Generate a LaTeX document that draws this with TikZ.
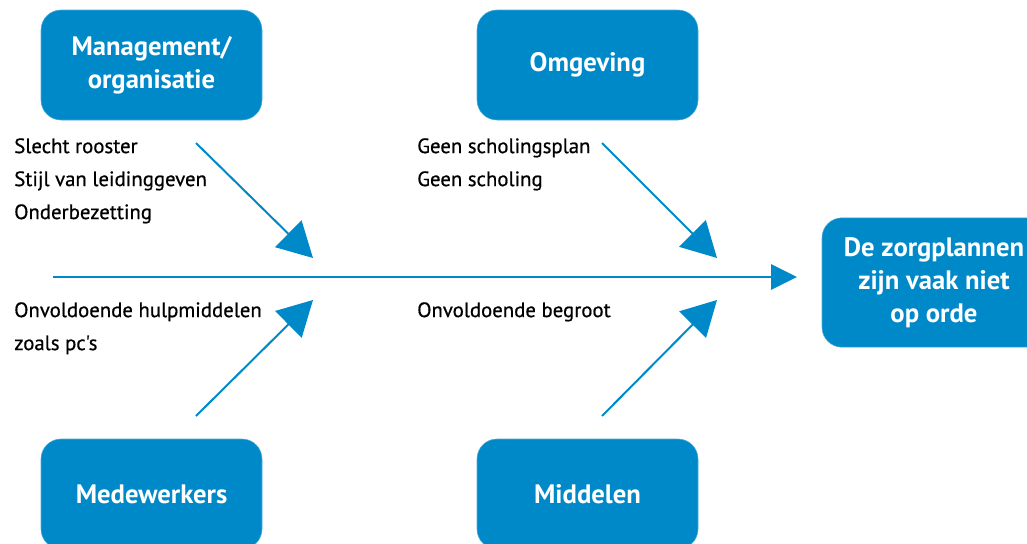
\documentclass[tikz,border=0pt]{standalone}
\usepackage{fontspec}
\setmainfont{PT Sans}
\newfontfamily\puntfont{PT Sans}[FakeBold=0.6,Ligatures=TeXOff]
\usetikzlibrary{arrows.meta}
\definecolor{zorgblauw}{RGB}{0,137,201}
\begin{document}
\begin{tikzpicture}[x=0.75pt,y=-0.75pt,
    oorzaak/.style={draw=zorgblauw!70,fill=zorgblauw,rounded corners=15pt,minimum width=165.75pt,minimum height=82.5pt,text=white,align=center,font=\bfseries\fontsize{20}{24.75}\selectfont},
    punt/.style={anchor=north west,inner sep=0pt,align=left,font=\puntfont\fontsize{15.6}{24.75}\selectfont},
    graat/.style={zorgblauw,line width=1.5pt,-{Triangle[length=26pt,width=28pt]}}]
    \clip (0,0) rectangle (1027,543);
    \node[oorzaak] (management) at (151.5,65) {Management/\\organisatie};
    \node[oorzaak] (omgeving) at (587.5,65) {Omgeving};
    \node[oorzaak] (medewerkers) at (151.5,494) {Medewerkers};
    \node[oorzaak] (middelen) at (587.5,494) {Middelen};
    \node[oorzaak,minimum width=168pt,minimum height=97pt] (gevolg) at (934,282.5) {De zorgplannen\\zijn vaak niet\\op orde};
    \node[punt] (p1) at (14,138) {Slecht rooster\\Stijl van leidinggeven\\Onderbezetting};
    \node[punt] (p2) at (417,138) {Geen scholingsplan\\Geen scholing};
    \node[punt] (p3) at (14,302) {Onvoldoende hulpmiddelen\\zoals pc's};
    \node[punt] (p4) at (417,302) {Onvoldoende begroot};
    % graat
    \coordinate (s1) at (196,143);
    \coordinate (t1) at (313,258);
    \coordinate (s2) at (602,143);
    \coordinate (t2) at (717,258);
    \coordinate (s3) at (196,416);
    \coordinate (t3) at (313,300);
    \coordinate (s4) at (602,416);
    \coordinate (t4) at (717,300);
    \coordinate (kop) at (53,277);
    \coordinate (eind) at (797,277);
    \draw[zorgblauw,line width=1.5pt,-{Triangle[length=19.5pt,width=19pt]}] (kop) -- (eind);
    \draw[graat] (s1) -- (t1);
    \draw[graat] (s2) -- (t2);
    \draw[graat] (s3) -- (t3);
    \draw[graat] (s4) -- (t4);
\end{tikzpicture}
\end{document}
